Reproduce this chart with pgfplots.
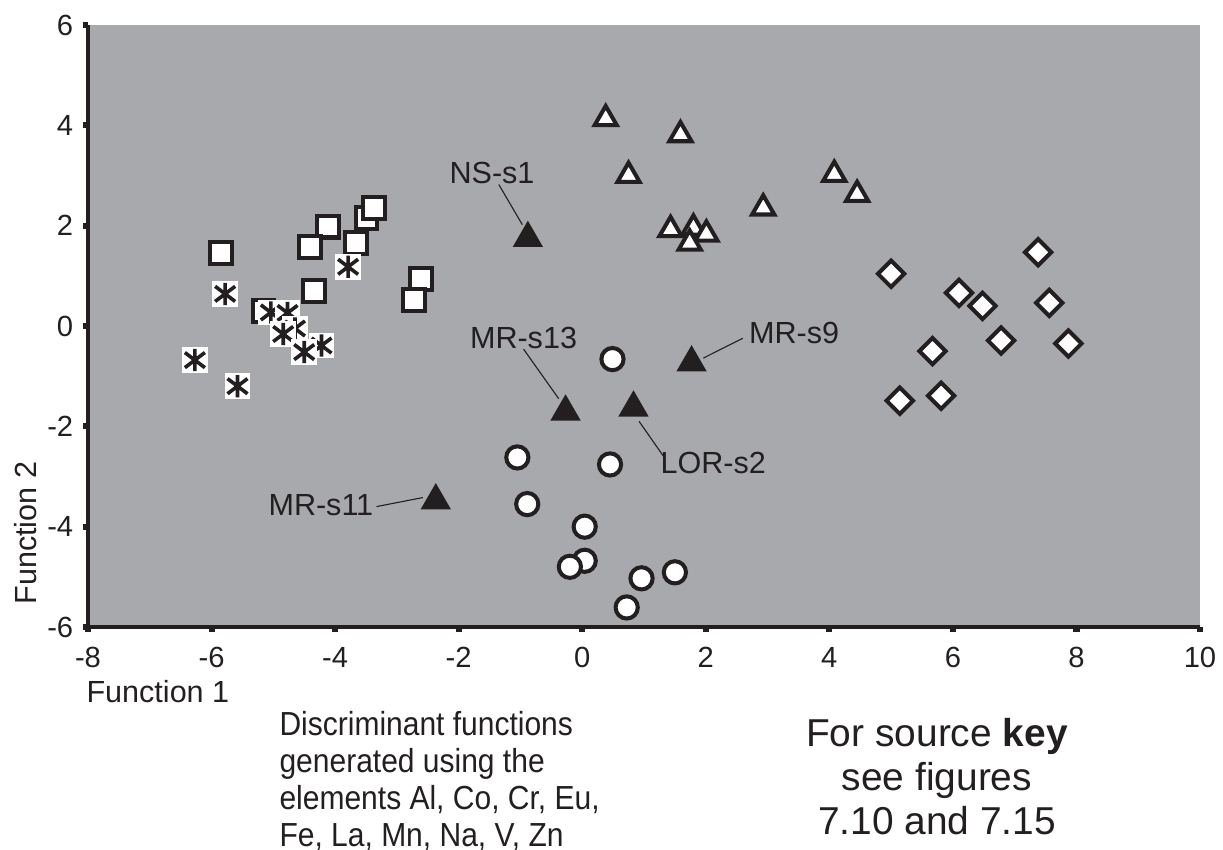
\documentclass[border=0pt]{standalone}
\usepackage{pgfplots}
\pgfplotsset{compat=1.18}
\usepackage{fontspec}
\setmainfont{Liberation Sans}
\newfontfamily\narrowsans[FakeStretch=0.9]{Liberation Sans}

\definecolor{panel}{RGB}{168,169,173}
\definecolor{ink}{RGB}{35,31,32}

% white box with a six-armed star on top
\pgfdeclareplotmark{boxast}{%
  \pgfpathrectangle{\pgfqpoint{-1.15\pgfplotmarksize}{-1.15\pgfplotmarksize}}%
                   {\pgfqpoint{2.3\pgfplotmarksize}{2.3\pgfplotmarksize}}%
  \pgfsetfillcolor{white}%
  \pgfusepathqfill
  \pgfpathmoveto{\pgfqpoint{0pt}{-\pgfplotmarksize}}%
  \pgfpathlineto{\pgfqpoint{0pt}{\pgfplotmarksize}}%
  \pgfpathmoveto{\pgfqpoint{-0.9\pgfplotmarksize}{-0.68\pgfplotmarksize}}%
  \pgfpathlineto{\pgfqpoint{0.9\pgfplotmarksize}{0.68\pgfplotmarksize}}%
  \pgfpathmoveto{\pgfqpoint{-0.9\pgfplotmarksize}{0.68\pgfplotmarksize}}%
  \pgfpathlineto{\pgfqpoint{0.9\pgfplotmarksize}{-0.68\pgfplotmarksize}}%
  \pgfusepathqstroke
}

\begin{document}
\begin{tikzpicture}
\useasboundingbox (-31.68pt,-80.28pt) rectangle (408.6pt,225.72pt);
\begin{axis}[
  at={(0,0)}, anchor=south west,
  scale only axis, width=400.32pt, height=216.72pt,
  xmin=-8, xmax=10, ymin=-6, ymax=6,
  axis x line*=bottom, axis y line*=left,
  axis line style={line width=1.2pt, ink},
  axis background/.style={fill=panel},
  xtick={-8,-6,-4,-2,0,2,4,6,8,10},
  xticklabels={-8,-6,-4,-2,0,2,4,6,8,10},
  ytick={-6,-4,-2,0,2,4,6},
  yticklabels={-6,-4,-2,0,2,4,6},
  tick align=outside, major tick length=1.8pt,
  tick style={line width=2.2pt, ink},
  tick label style={font=\fontsize{10.5}{12}\selectfont, text=ink},
  xticklabel style={yshift=-2pt},
  clip=false,
]
% leader lines to the labelled samples
\draw[ink, line width=0.4pt] (axis cs:-1.35,2.82) -- (axis cs:-0.97,2.02);
\draw[ink, line width=0.4pt] (axis cs:-0.95,-0.46) -- (axis cs:-0.38,-1.45);
\draw[ink, line width=0.4pt] (axis cs:0.92,-1.90) -- (axis cs:1.34,-2.64);
\draw[ink, line width=0.4pt] (axis cs:2.60,-0.245) -- (axis cs:1.96,-0.64);
\draw[ink, line width=0.4pt] (axis cs:-3.33,-3.60) -- (axis cs:-2.58,-3.42);

% squares
\addplot[only marks, mark=square*, mark size=3.9pt,
  mark options={fill=white, draw=ink, line width=1.45pt}] coordinates {
  (-5.85,1.45) (-4.12,1.98) (-4.41,1.58) (-3.49,2.15) (-3.37,2.35)
  (-3.66,1.65) (-4.34,0.70) (-2.61,0.94) (-2.72,0.52) (-5.16,0.30)
};
% boxed stars
\addplot[only marks, mark=boxast, mark size=4pt,
  mark options={draw=ink, line width=1.3pt}] coordinates {
  (-5.78,0.64) (-3.79,1.18) (-6.27,-0.68) (-5.58,-1.20) (-5.04,0.27)
  (-4.77,0.26) (-4.65,-0.05) (-4.84,-0.16) (-4.22,-0.39) (-4.50,-0.52)
};
% open triangles
\addplot[only marks, mark=triangle*, mark size=4.6pt,
  mark options={fill=white, draw=ink, line width=1.45pt}] coordinates {
  (0.38,4.13) (1.59,3.81) (0.75,3.00) (1.43,1.92) (1.80,1.95)
  (2.01,1.83) (1.74,1.65) (2.93,2.35) (4.08,3.02) (4.45,2.62)
};
% circles
\addplot[only marks, mark=*, mark size=4pt,
  mark options={fill=white, draw=ink, line width=1.45pt}] coordinates {
  (0.49,-0.66) (-1.05,-2.62) (0.45,-2.76) (-0.89,-3.55) (0.04,-4.00)
  (0.04,-4.68) (-0.20,-4.80) (0.96,-5.03) (1.50,-4.91) (0.72,-5.61)
};
% diamonds
\addplot[only marks, mark=square*, mark size=3.35pt,
  mark options={rotate=45, fill=white, draw=ink, line width=1.45pt}] coordinates {
  (5.00,1.04) (7.38,1.47) (6.10,0.66) (6.48,0.40) (7.56,0.46)
  (6.78,-0.29) (7.87,-0.35) (5.67,-0.50) (5.14,-1.49) (5.81,-1.39)
};
% individual samples
\addplot[only marks, mark=triangle*, mark size=5.9pt,
  mark options={fill=ink, draw=ink, line width=0.4pt}] coordinates {
  (-0.88,1.75) (-0.27,-1.71) (0.83,-1.63) (1.77,-0.73) (-2.37,-3.48)
};

\begin{scope}[font=\fontsize{11}{13}\selectfont, text=ink]
\node at (axis cs:-1.46,3.05) {NS-s1};
\node at (axis cs:-0.95,-0.24) {MR-s13};
\node at (axis cs:2.12,-2.74) {LOR-s2};
\node at (axis cs:3.43,-0.14) {MR-s9};
\node at (axis cs:-4.23,-3.57) {MR-s11};
\end{scope}
\end{axis}

% text around the plot, placed in pixel units of the figure
\begin{scope}[x=0.36pt, y=-0.36pt, shift={(-31.68pt,225.72pt)}, text=ink, inner sep=0pt]
\node[anchor=base west, font=\fontsize{11}{13}\selectfont] at (86,702) {Function 1};
\node[anchor=base west, rotate=90, font=\fontsize{11}{13}\selectfont] at (37,605) {Function 2};
\begin{scope}[font=\narrowsans\fontsize{12}{14}\selectfont]
\node[anchor=base west] at (279,735) {Discriminant functions};
\node[anchor=base west] at (279,772) {generated using the};
\node[anchor=base west] at (279,809) {elements Al, Co, Cr, Eu,};
\node[anchor=base west] at (279,846) {Fe, La, Mn, Na, V, Zn};
\end{scope}
\begin{scope}[font=\fontsize{14}{16}\selectfont]
\node[anchor=base] at (937,746) {For source \textbf{key}};
\node[anchor=base] at (937,790) {see figures};
\node[anchor=base] at (937,834) {7.10 and 7.15};
\end{scope}
\end{scope}
\end{tikzpicture}
\end{document}
